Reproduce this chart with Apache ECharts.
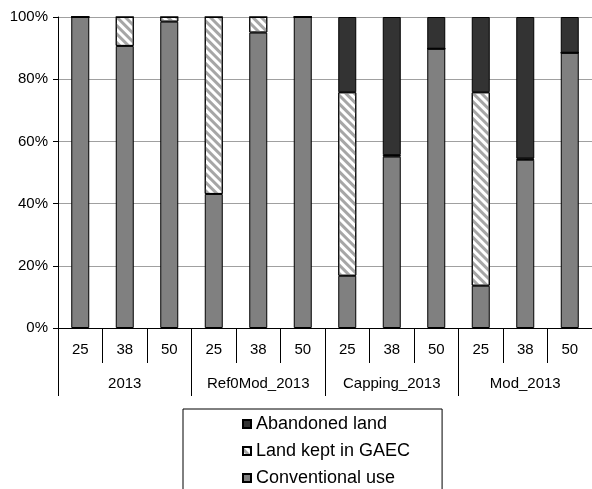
<!DOCTYPE html>
<html>
<head>
<meta charset="utf-8">
<script src="https://cdn.jsdelivr.net/npm/echarts@6/dist/echarts.min.js"></script>
<style>
  html, body { margin: 0; padding: 0; background: #fff; }
  #chart { width: 592px; height: 489px; }
</style>
</head>
<body>
<div id="chart"></div>
<script>
// Land-use shares by scenario and threshold
var thresholds = ['25', '38', '50', '25', '38', '50', '25', '38', '50', '25', '38', '50'];
var scenarios = ['2013', 'Ref0Mod_2013', 'Capping_2013', 'Mod_2013'];
var conventionalUse = [100, 90.7, 98.5, 43.1, 95.0, 100, 16.8, 55.1, 89.8, 13.6, 54.1, 88.5];
var keptInGAEC = [0, 9.3, 1.5, 56.9, 5.0, 0, 59.0, 0.5, 0, 62.2, 0.4, 0];
var abandonedLand = [0, 0, 0, 0, 0, 0, 24.2, 44.4, 10.2, 24.2, 45.5, 11.5];
var yTicks = [0, 20, 40, 60, 80, 100];

var font = "'Liberation Sans', Arial, sans-serif";
var chart = echarts.init(document.getElementById('chart'), null, { renderer: 'canvas' });

var barBase = {
  type: 'bar',
  stack: 'share',
  barWidth: 18,
  emphasis: { disabled: true },
  animation: false
};

chart.setOption({
  backgroundColor: '#fff',
  animation: false,
  textStyle: { fontFamily: font, color: '#000' },
  grid: { left: 58, right: -3, top: 17, bottom: 161, containLabel: false },
  legend: {
    orient: 'vertical',
    left: 183,
    top: 409,
    height: 120,
    data: ['Abandoned land', 'Land kept in GAEC', 'Conventional use'],
    icon: 'rect',
    itemWidth: 8,
    itemHeight: 8,
    itemGap: 9,
    padding: [6, 32, 20, 59],
    borderColor: '#000',
    borderWidth: 1,
    selectedMode: false,
    textStyle: { fontFamily: font, fontSize: 18, color: '#000', lineHeight: 18 }
  },
  xAxis: [
    {
      type: 'category',
      data: thresholds,
      position: 'bottom',
      axisLine: { show: true, lineStyle: { color: '#000', width: 1 } },
      axisTick: { show: true, interval: 0, length: 35, lineStyle: { color: '#000' } },
      axisLabel: { interval: 0, margin: 14, fontSize: 15, color: '#000', fontFamily: font }
    },
    {
      type: 'category',
      data: scenarios,
      position: 'bottom',
      axisLine: { show: false },
      axisTick: { show: true, interval: 0, length: 68, lineStyle: { color: '#000' } },
      axisLabel: { interval: 0, margin: 48, fontSize: 15, color: '#000', fontFamily: font }
    }
  ],
  yAxis: {
    type: 'value',
    min: yTicks[0],
    max: yTicks[yTicks.length - 1],
    interval: 20,
    axisLine: { show: true, lineStyle: { color: '#000', width: 1 } },
    axisTick: { show: true, length: 5, lineStyle: { color: '#000' } },
    axisLabel: { formatter: '{value}%', margin: 10, fontSize: 15, color: '#000', fontFamily: font },
    splitLine: { show: true, lineStyle: { color: '#a0a0a0', width: 1 } }
  },
  series: [
    Object.assign({}, barBase, {
      name: 'Conventional use',
      data: conventionalUse,
      itemStyle: { color: '#808080', borderColor: '#000', borderWidth: 1 }
    }),
    Object.assign({}, barBase, {
      name: 'Land kept in GAEC',
      data: keptInGAEC,
      itemStyle: {
        color: '#ffffff',
        borderColor: '#000',
        borderWidth: 1,
        decal: {
          symbol: 'rect',
          symbolSize: 1,
          color: '#a6a6a6',
          dashArrayX: [1, 0],
          dashArrayY: [2.5, 2.5],
          rotation: Math.PI / 4
        }
      }
    }),
    Object.assign({}, barBase, {
      name: 'Abandoned land',
      data: abandonedLand,
      itemStyle: { color: '#333333', borderColor: '#000', borderWidth: 1 }
    })
  ]
});
</script>
</body>
</html>
